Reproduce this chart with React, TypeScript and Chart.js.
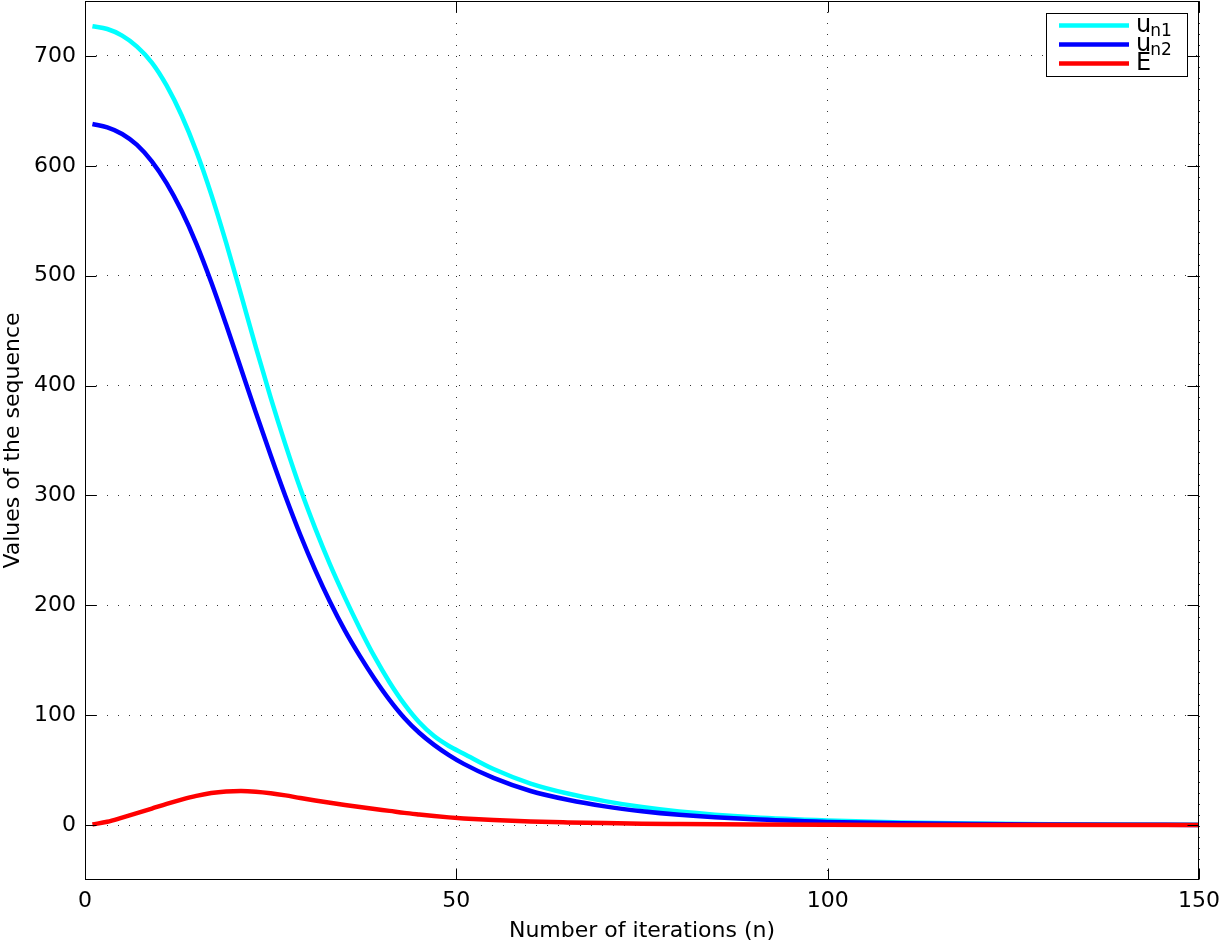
import React, { useEffect, useRef } from 'react';
import { Chart, registerables } from 'chart.js';

Chart.register(...registerables);

const iterations = [1, 3, 5, 7, 9, 11, 13, 15, 17, 19, 21, 23, 25, 27, 29, 31, 33, 35, 37, 39, 41, 43, 45, 47, 49, 51, 55, 60, 65, 70, 75, 80, 90, 100, 110, 120, 130, 140, 150];
const un1 = [727, 724.5, 718.5, 708.5, 694, 673, 646, 613, 574, 530, 483, 435, 389, 346, 306, 270, 237, 207, 179, 153, 130, 110, 93.5, 81, 72, 65, 51, 37.8, 28.7, 21.8, 16.4, 12.4, 7.1, 4.1, 2.3, 1.35, 0.78, 0.45, 0.26];
const un2 = [638, 635, 629, 619, 604, 584, 559, 529, 494, 455.5, 415.5, 375.5, 336.5, 299, 264, 232, 203, 177, 154, 133, 114, 97.5, 84, 73, 63.7, 55.7, 42.9, 31, 23, 17, 12.6, 9.4, 5.2, 2.9, 1.6, 0.9, 0.5, 0.28, 0.16];
const errE = [0.5, 3, 6.8, 10.8, 15, 19.3, 23.2, 26.6, 29.2, 30.6, 31, 30.4, 29, 27, 24.6, 22.4, 20.3, 18.3, 16.4, 14.6, 12.9, 11.1, 9.6, 8.2, 7.0, 6.0, 4.5, 3.2, 2.4, 1.8, 1.3, 1.0, 0.55, 0.3, 0.17, 0.1, 0.06, 0.03, 0.02];

const seriesNames = ['u', 'u', 'E'];
const seriesSubs = ['n1', 'n2', ''];
const seriesColors = ['#00ffff', '#0000ff', '#ff0000'];

const xTicks = [0, 50, 100, 150];
const yTicks = [0, 100, 200, 300, 400, 500, 600, 700];

const FONT = "'DejaVu Sans', sans-serif";

const framePlugin = {
  id: 'matlabFrame',
  afterDraw(chart: any) {
    const { ctx, chartArea, scales } = chart;
    const l = Math.round(chartArea.left) + 0.5;
    const r = Math.round(chartArea.right) - 0.5;
    const t = Math.round(chartArea.top) + 0.5;
    const b = Math.round(chartArea.bottom) - 0.5;
    ctx.save();
    ctx.strokeStyle = '#000';
    ctx.lineWidth = 1;
    ctx.setLineDash([]);
    ctx.strokeRect(l, t, r - l, b - t);
    const tl = 11;
    ctx.beginPath();
    xTicks.forEach((v) => {
      const px = Math.round(scales.x.getPixelForValue(v)) + 0.5;
      ctx.moveTo(px, b); ctx.lineTo(px, b - tl);
      ctx.moveTo(px, t); ctx.lineTo(px, t + tl);
    });
    yTicks.forEach((v) => {
      const py = Math.round(scales.y.getPixelForValue(v)) + 0.5;
      ctx.moveTo(l, py); ctx.lineTo(l + tl, py);
      ctx.moveTo(r, py); ctx.lineTo(r - tl, py);
    });
    ctx.stroke();

    // legend
    const bx = 1046.5, by = 13.5, bw = 141, bh = 63;
    ctx.fillStyle = '#fff';
    ctx.fillRect(bx, by, bw, bh);
    ctx.strokeRect(bx, by, bw, bh);
    const rows = [25.5, 44.5, 63.5];
    rows.forEach((y, i) => {
      ctx.strokeStyle = seriesColors[i];
      ctx.lineWidth = 4.5;
      ctx.beginPath();
      ctx.moveTo(1059, y);
      ctx.lineTo(1129, y);
      ctx.stroke();
      ctx.fillStyle = '#000';
      ctx.textBaseline = 'alphabetic';
      ctx.textAlign = 'left';
      ctx.font = `24px ${FONT}`;
      const base = y + 6.5;
      ctx.fillText(seriesNames[i], 1136, base);
      if (seriesSubs[i]) {
        const w = ctx.measureText(seriesNames[i]).width;
        ctx.font = `17px ${FONT}`;
        ctx.fillText(seriesSubs[i], 1136 + w - 1, base + 3.5);
      }
    });
    ctx.restore();
  },
};

export default function App() {
  const ref = useRef<HTMLCanvasElement | null>(null);
  useEffect(() => {
    if (!ref.current) return;
    const mk = (vals: number[]) => iterations.map((n, i) => ({ x: n, y: vals[i] }));
    const chart = new Chart(ref.current, {
      type: 'line',
      data: {
        datasets: [
          { label: 'u_n1', data: mk(un1), borderColor: seriesColors[0], backgroundColor: seriesColors[0], order: 3 },
          { label: 'u_n2', data: mk(un2), borderColor: seriesColors[1], backgroundColor: seriesColors[1], order: 2 },
          { label: 'E', data: mk(errE), borderColor: seriesColors[2], backgroundColor: seriesColors[2], order: 1 },
        ].map((d) => ({ ...d, borderWidth: 4.5, pointRadius: 0, cubicInterpolationMode: 'monotone' as const, fill: false })),
      },
      options: {
        responsive: false,
        animation: false,
        events: [],
        layout: { padding: { top: 1, right: 20, left: 0, bottom: 0 } },
        plugins: { legend: { display: false }, tooltip: { enabled: false } },
        scales: {
          x: {
            type: 'linear',
            min: 0,
            max: 150,
            afterBuildTicks: (axis: any) => { axis.ticks = xTicks.map((v) => ({ value: v })); },
            afterFit: (axis: any) => { axis.height = 65; axis.paddingLeft = 0; axis.paddingRight = 0; },
            grid: { color: '#333', lineWidth: 1, drawTicks: false },
            border: { display: false, dash: [1, 10] },
            ticks: { color: '#000', font: { family: FONT, size: 22 }, padding: 8, maxRotation: 0, autoSkip: false },
            title: { display: true, text: 'Number of iterations (n)', color: '#000', font: { family: FONT, size: 22 }, padding: { top: 0, bottom: 1 } },
          },
          y: {
            type: 'linear',
            min: -50,
            max: 750,
            afterBuildTicks: (axis: any) => { axis.ticks = yTicks.map((v) => ({ value: v })); },
            afterFit: (axis: any) => { axis.width = 85; axis.paddingTop = 0; axis.paddingBottom = 0; },
            grid: { color: '#333', lineWidth: 1, drawTicks: false },
            border: { display: false, dash: [1, 10] },
            ticks: { color: '#000', font: { family: FONT, size: 22 }, padding: 9, autoSkip: false },
            title: { display: true, text: 'Values of the sequence', color: '#000', font: { family: FONT, size: 22 }, padding: { top: 0, bottom: 0 } },
          },
        },
      },
      plugins: [framePlugin],
    });
    return () => chart.destroy();
  }, []);
  return (
    <div style={{ position: 'absolute', left: 0, top: 0, width: 1219, height: 945, background: '#fff' }}>
      <canvas ref={ref} width={1219} height={945} style={{ display: 'block' }} />
    </div>
  );
}
